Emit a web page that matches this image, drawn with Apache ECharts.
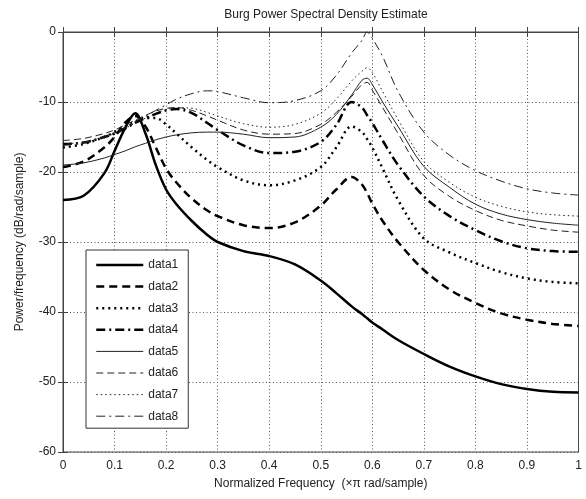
<!DOCTYPE html>
<html>
<head>
<meta charset="utf-8">
<script src="https://cdn.jsdelivr.net/npm/echarts@6/dist/echarts.min.js"></script>
<style>html,body{margin:0;padding:0;background:#fff}#c{width:586px;height:499px}</style>
</head>
<body>
<div id="c"></div>
<script>
var freq  = [0, 0.04, 0.08, 0.1, 0.12, 0.14, 0.16, 0.18, 0.2, 0.22, 0.25, 0.28, 0.3, 0.35, 0.4, 0.45, 0.5, 0.53, 0.56, 0.58, 0.59, 0.6, 0.62, 0.65, 0.7, 0.75, 0.8, 0.85, 0.9, 0.95, 1];
var data1 = [-24, -23.4, -20.2, -17, -13.8, -11.6, -14.5, -19, -22.5, -24.6, -27, -29, -30, -31.3, -32, -33.2, -35.5, -37.3, -39.2, -40.3, -40.9, -41.5, -42.5, -44, -46, -47.8, -49.2, -50.3, -51, -51.4, -51.5];
var data2 = [-19.3, -18.5, -16.5, -15, -13, -12, -13.5, -16.5, -19.5, -21.5, -23.8, -25.5, -26.3, -27.6, -28, -27.2, -24.8, -22.5, -20.7, -21.8, -23, -24.5, -27, -30, -34, -36.8, -38.7, -40.2, -41.1, -41.7, -42];
var data3 = [-16.5, -16, -15, -14.3, -13.5, -12.8, -12.3, -12.3, -13.2, -14.5, -16.5, -18.3, -19.3, -21.2, -21.9, -21.2, -19.3, -16.5, -13.5, -14.3, -15.3, -16.5, -19.5, -24, -29.5, -31.5, -33, -34.3, -35.2, -35.7, -35.9];
var data4 = [-16, -15.8, -15, -14.5, -13.8, -13, -12.3, -11.7, -11.2, -11, -11.6, -13, -14, -16.2, -17.3, -17.1, -15.7, -13.3, -10, -10.8, -11.9, -13, -15.5, -19, -23.5, -26.3, -28.3, -29.9, -30.9, -31.3, -31.4];
var data5 = [-19, -18.7, -18, -17.5, -17, -16.4, -15.9, -15.4, -15, -14.7, -14.4, -14.3, -14.3, -14.6, -15.1, -15, -13.6, -11.8, -9, -6.9, -6.6, -7.5, -10, -13.5, -19.2, -22.2, -24.6, -26, -26.8, -27.3, -27.6];
var data6 = [-15.5, -15.2, -14.5, -14, -13.3, -12.6, -11.9, -11.3, -10.9, -10.8, -11.2, -12, -12.6, -14, -14.6, -14.5, -13.2, -11.5, -9.2, -7.5, -7.2, -8.3, -10.8, -14.5, -20.5, -23.5, -25.5, -26.9, -27.7, -28.3, -28.6];
var data7 = [-16, -15.7, -15, -14.5, -13.8, -13, -12.3, -11.6, -11.1, -10.8, -10.9, -11.5, -12, -13.1, -13.6, -13.2, -11.6, -9.6, -7, -5.6, -5.1, -5.8, -8.5, -12.5, -18.5, -21.5, -23.6, -24.9, -25.7, -26.1, -26.3];
var data8 = [-16.2, -15.8, -15, -14.4, -13.6, -12.8, -12, -11.2, -10.4, -9.6, -8.8, -8.4, -8.5, -9.4, -10.1, -9.8, -8.4, -6.2, -3, -1.2, 0, -0.9, -3.5, -8.5, -14.3, -17.6, -19.8, -21.3, -22.4, -23, -23.3];
var seriesNames = ['data1','data2','data3','data4','data5','data6','data7','data8'];
var xTicks = [0, 0.1, 0.2, 0.3, 0.4, 0.5, 0.6, 0.7, 0.8, 0.9, 1];
var yTicks = [-60, -50, -40, -30, -20, -10, 0];

var all = [data1, data2, data3, data4, data5, data6, data7, data8];
var styles = [
  {width: 2.5, type: 'solid', color: '#000'},
  {width: 2.5, type: [8, 5], color: '#000'},
  {width: 2.5, type: [2, 4], color: '#000'},
  {width: 2.5, type: [9, 4, 2, 4], color: '#000'},
  {width: 1, type: 'solid', color: '#222'},
  {width: 1, type: [7, 4], color: '#222'},
  {width: 1, type: [1.5, 3], color: '#222'},
  {width: 1, type: [9, 4, 2, 4], color: '#222'}
];
var FONT = 'Liberation Sans, Arial, sans-serif';
var series = all.map(function (d, i) {
  return {
    name: seriesNames[i],
    type: 'line',
    xAxisIndex: 0, yAxisIndex: 0,
    data: d.map(function (v, j) { return [freq[j], v]; }),
    symbol: 'none',
    smooth: 0.35,
    lineStyle: styles[i],
    itemStyle: {color: styles[i].color},
    animation: false,
    z: 3
  };
});

var chart = echarts.init(document.getElementById('c'), null, {renderer: 'canvas'});
var gridLine = {show: true, lineStyle: {color: '#555', width: 1, type: [1, 2.5]}};
chart.setOption({
  animation: false,
  backgroundColor: '#fff',
  title: {
    text: 'Burg Power Spectral Density Estimate',
    left: 321, top: 4, textAlign: 'center',
    textStyle: {fontSize: 12, fontWeight: 'normal', color: '#222', fontFamily: FONT}
  },
  grid: {left: 63, right: 7.5, top: 32, bottom: 47, show: true, borderColor: '#444', borderWidth: 1},
  legend: {
    data: seriesNames,
    orient: 'vertical',
    left: 86, top: 250,
    itemWidth: 47, itemHeight: 12, itemGap: 9.6,
    padding: [9, 10, 6, 9],
    borderColor: '#333', borderWidth: 1,
    backgroundColor: '#fff',
    itemStyle: {opacity: 0},
    lineStyle: {width: 'inherit', type: 'inherit', color: 'inherit'},
    textStyle: {fontSize: 12, color: '#222', fontFamily: FONT, padding: [0, 0, 0, 0]},
    selectedMode: false
  },
  xAxis: [{
    type: 'value', min: 0, max: 1, interval: 0.1,
    name: 'Normalized Frequency  (×π rad/sample)',
    nameLocation: 'middle', nameGap: 26,
    nameTextStyle: {fontSize: 12, color: '#222', fontFamily: FONT},
    axisLine: {show: true, lineStyle: {color: '#444'}},
    axisTick: {show: true, inside: true, length: 5, lineStyle: {color: '#444'}},
    axisLabel: {fontSize: 12, color: '#222', fontFamily: FONT, margin: 8,
      formatter: function (v) { return String(Math.round(v * 10) / 10); }},
    splitLine: gridLine
  }, {
    type: 'value', min: 0, max: 1, interval: 0.1, position: 'top',
    axisLine: {show: true, lineStyle: {color: '#444'}},
    axisTick: {show: true, inside: true, length: 5, lineStyle: {color: '#444'}},
    axisLabel: {show: false}, splitLine: {show: false}
  }],
  yAxis: [{
    type: 'value', min: -60, max: 0, interval: 10,
    name: 'Power/frequency (dB/rad/sample)',
    nameLocation: 'middle', nameGap: 37, nameRotate: 90,
    nameTextStyle: {fontSize: 12, color: '#222', fontFamily: FONT},
    axisLine: {show: true, lineStyle: {color: '#444'}},
    axisTick: {show: true, inside: true, length: 5, lineStyle: {color: '#444'}},
    axisLabel: {fontSize: 12, color: '#222', fontFamily: FONT, margin: 7},
    splitLine: gridLine
  }, {
    type: 'value', min: -60, max: 0, interval: 10, position: 'right',
    axisLine: {show: true, lineStyle: {color: '#444'}},
    axisTick: {show: true, inside: true, length: 5, lineStyle: {color: '#444'}},
    axisLabel: {show: false}, splitLine: {show: false}
  }],
  series: series
});
</script>
</body>
</html>
